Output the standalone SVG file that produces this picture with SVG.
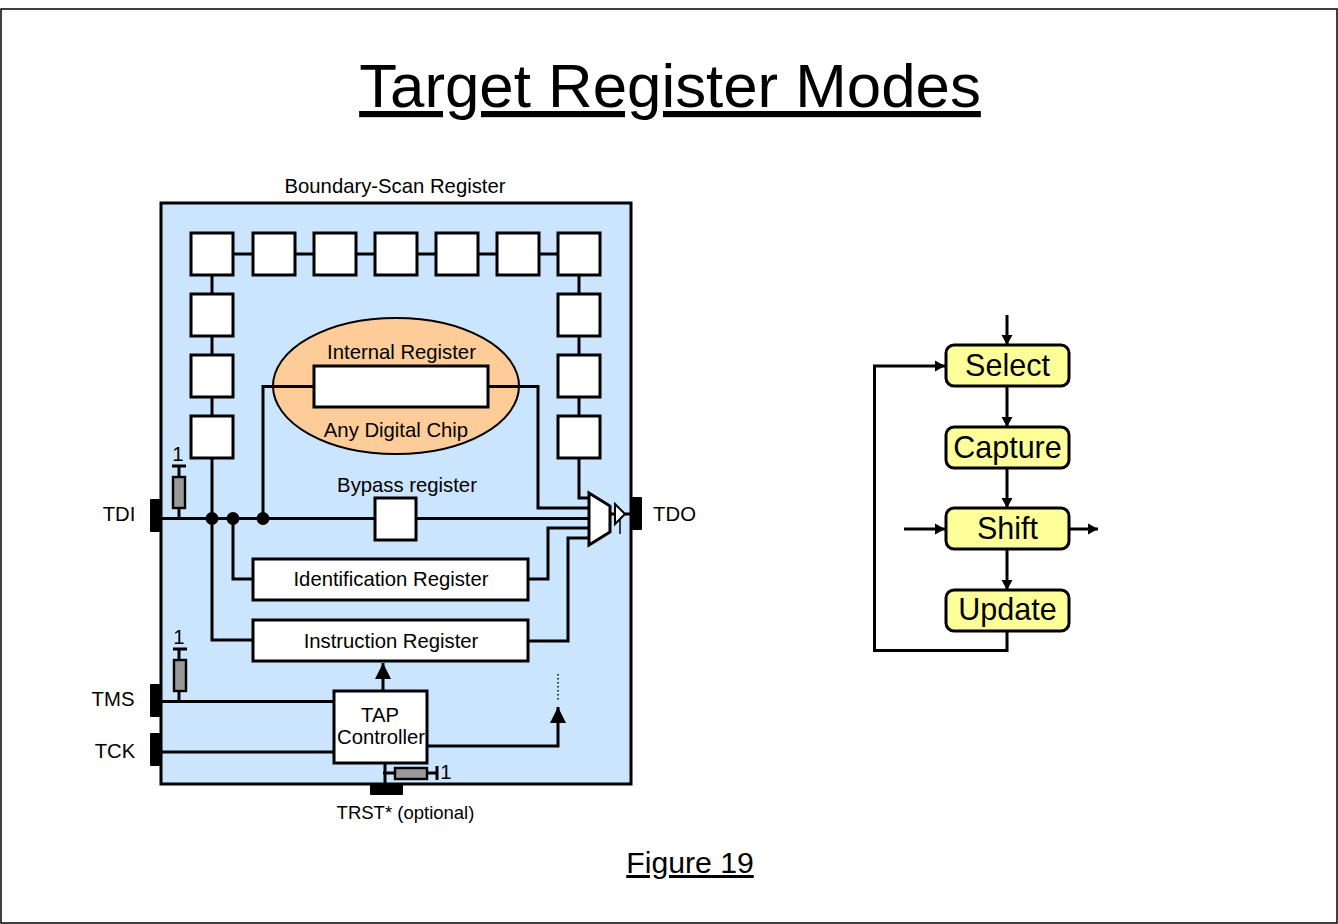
<svg xmlns="http://www.w3.org/2000/svg" width="1338" height="924" viewBox="0 0 1338 924">
<defs>
<marker id="a" markerUnits="userSpaceOnUse" markerWidth="16" markerHeight="16" refX="16" refY="8" orient="auto" viewBox="0 0 16 16"><path d="M0 0L16 8L0 16Z" fill="#000"/></marker>
<marker id="s" markerUnits="userSpaceOnUse" markerWidth="11" markerHeight="12" refX="10" refY="6" orient="auto" viewBox="0 0 11 12"><path d="M0 0.5L10 6L0 11.5Z" fill="#000"/></marker>
</defs>
<style>
text{font-family:"Liberation Sans",Arial,sans-serif;fill:#000}
.c{text-anchor:middle}
.t{font-size:20.3px}
.w{fill:#fff;stroke:#000;stroke-width:3}
.l{fill:none;stroke:#000;stroke-width:3}
.p{fill:#000}
.r{fill:#999;stroke:#000;stroke-width:2.4}
.y{fill:#ffff99;stroke:#000;stroke-width:3}
.k{font-size:30.5px}
</style>
<rect x="0" y="0" width="1338" height="924" fill="#fff"/>
<rect x="1" y="9" width="1336" height="914" fill="#fff" stroke="#000" stroke-width="1.5"/>
<text id="title" class="c" x="670" y="107" font-size="61.8" text-decoration="underline">Target Register Modes</text>
<text id="fig" class="c" x="690" y="873" font-size="30.2" text-decoration="underline">Figure 19</text>
<g id="chip"><rect x="161" y="203" width="470" height="581" fill="#cce5ff" stroke="#000" stroke-width="3"/></g>
<text class="c t" x="395" y="193">Boundary-Scan Register</text>
<g id="connectors">
<path class="l" d="M233 254H253M295 254H314M356 254H375M417 254H436M478 254H497M539 254H558M212 275V294M212 336V355M212 397V416M212 458V640H253M579 275V294M579 336V355M579 397V416M579 458V498H590"/>
<path class="l" d="M150 518.5H590M233 518.5V579H253M263 518.5V386.5H314M488 386.5H538V508H590M528 579H548V528H590M528 641H568V538H590"/>
<path class="l" d="M179 518V506M179 478V466M172 466H186"/>
<path class="l" d="M179 701V691M179 661V649M173 649H187"/>
<path class="l" d="M161 701.5H334M161 752H334"/>
<path class="l" d="M383 691V663" marker-end="url(#a)"/>
<path class="l" d="M427 746H558V707" marker-end="url(#a)"/>
<path d="M558 674V702" fill="none" stroke="#000" stroke-width="1.5" stroke-dasharray="1.5 2.5"/>
<path class="l" d="M385 763V784M383 773H396M427 773H437M437 766V780"/>
<path class="l" d="M610 514H615M625 514H631"/>
<path d="M620 516V534" fill="none" stroke="#000" stroke-width="1.5"/>
<path class="l" d="M1007 315V345" marker-end="url(#s)"/>
<path class="l" d="M1007 386V427" marker-end="url(#s)"/>
<path class="l" d="M1007 468V508" marker-end="url(#s)"/>
<path class="l" d="M1007 549V590" marker-end="url(#s)"/>
<path class="l" d="M1007 631V650.5H874.5V366H945" marker-end="url(#s)"/>
<path class="l" d="M904 529H945" marker-end="url(#s)"/>
<path class="l" d="M1069 529H1098" marker-end="url(#s)"/>
</g>
<g id="cells">
<rect class="w" x="191" y="233" width="42" height="42"/><rect class="w" x="253" y="233" width="42" height="42"/><rect class="w" x="314" y="233" width="42" height="42"/><rect class="w" x="375" y="233" width="42" height="42"/><rect class="w" x="436" y="233" width="42" height="42"/><rect class="w" x="497" y="233" width="42" height="42"/><rect class="w" x="558" y="233" width="42" height="42"/>
<rect class="w" x="191" y="294" width="42" height="42"/><rect class="w" x="191" y="355" width="42" height="42"/><rect class="w" x="191" y="416" width="42" height="42"/>
<rect class="w" x="558" y="294" width="42" height="42"/><rect class="w" x="558" y="355" width="42" height="42"/><rect class="w" x="558" y="416" width="42" height="42"/>
</g>
<g id="internal">
<ellipse cx="396" cy="386" rx="123" ry="68" fill="#fdcc99" stroke="#000" stroke-width="2"/>
<path class="l" d="M263 386.5H314M488 386.5H538"/>
<rect class="w" x="314" y="366" width="174" height="41"/>
<text class="c t" x="401.5" y="359">Internal Register</text>
<text class="c t" x="396" y="437">Any Digital Chip</text>
</g>
<g id="bypass"><rect class="w" x="375" y="498" width="41" height="42"/><text class="c t" x="407" y="492">Bypass register</text></g>
<g id="idreg"><rect class="w" x="253" y="559" width="275" height="41"/><text class="c t" x="391" y="586">Identification Register</text></g>
<g id="irreg"><rect class="w" x="253" y="620" width="275" height="41"/><text class="c t" x="391" y="648">Instruction Register</text></g>
<g id="tap"><rect class="w" x="334" y="691" width="93" height="72"/><text class="c t" x="380" y="722">TAP</text><text class="c t" x="381" y="744">Controller</text></g>
<g id="dots"><circle class="p" cx="212" cy="518.5" r="6.5"/><circle class="p" cx="233" cy="518.5" r="6.5"/><circle class="p" cx="263" cy="518.5" r="6.5"/></g>
<g id="pins">
<rect class="p" x="150" y="499" width="12" height="33" rx="1"/><rect class="p" x="150" y="684" width="12" height="33" rx="1"/><rect class="p" x="150" y="733" width="12" height="33" rx="1"/><rect class="p" x="370" y="783" width="33" height="12" rx="1"/><rect class="p" x="630" y="497" width="12" height="33" rx="1"/>
<text class="c t" x="119" y="521">TDI</text><text class="c t" x="674.5" y="521">TDO</text><text class="c t" x="113" y="706">TMS</text><text class="c t" x="115" y="758">TCK</text><text class="c" font-size="18.5" x="405.5" y="819">TRST* (optional)</text>
</g>
<g id="resistors">
<rect class="r" x="173" y="477" width="12" height="31"/><text class="c t" x="178" y="461">1</text>
<rect class="r" x="174" y="660" width="12" height="31"/><text class="c t" x="179" y="644">1</text>
<rect class="r" x="395" y="768" width="32" height="11"/><text class="c t" x="446" y="779">1</text>
</g>
<g id="mux">
<path d="M589 493L610 506V532L589 545Z" fill="#fff" stroke="#000" stroke-width="3"/>
<path d="M615 504L625 514L615 524Z" fill="#fff" stroke="#000" stroke-width="2"/>
</g>
<g id="select"><rect class="y" x="946" y="345" width="123" height="41" rx="8"/><text class="c k" x="1007.5" y="376">Select</text></g>
<g id="capture"><rect class="y" x="946" y="427" width="123" height="41" rx="8"/><text class="c k" x="1007.5" y="458">Capture</text></g>
<g id="shift"><rect class="y" x="946" y="508" width="123" height="41" rx="8"/><text class="c k" x="1007.5" y="539">Shift</text></g>
<g id="update"><rect class="y" x="946" y="590" width="123" height="41" rx="8"/><text class="c k" x="1007.5" y="620">Update</text></g>
</svg>
